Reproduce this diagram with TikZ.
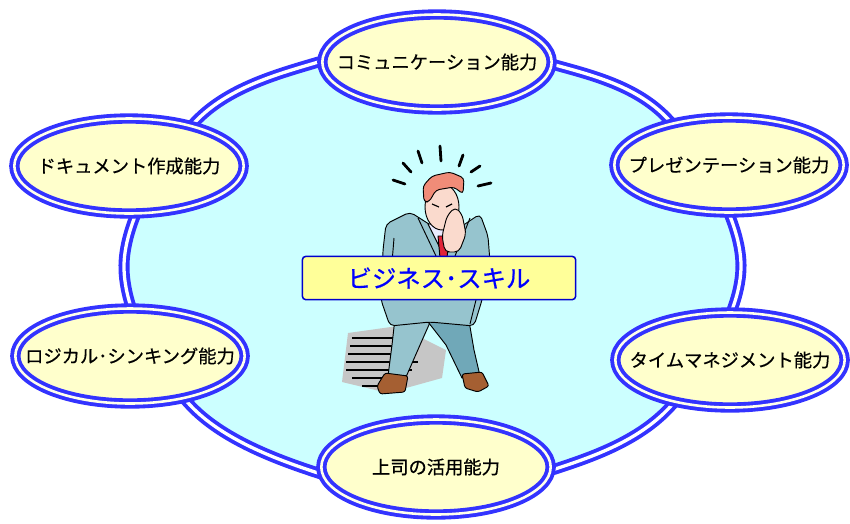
\documentclass[tikz,border=0pt]{standalone}
\usepackage{fontspec}
\setmainfont{Noto Sans CJK JP}[FakeBold=0.6]
\usepackage{xcolor}
\usepackage{tikz}
\usetikzlibrary{shapes.geometric}

\definecolor{ringblue}{RGB}{51,51,255}
\definecolor{skycyan}{RGB}{204,255,255}
\definecolor{paleyellow}{RGB}{255,255,204}
\definecolor{titleyellow}{RGB}{255,255,153}
\definecolor{suit}{RGB}{150,196,206}
\definecolor{suitdark}{RGB}{112,168,184}
\definecolor{skin}{RGB}{250,218,205}
\definecolor{hair}{RGB}{240,140,120}
\definecolor{shoe}{RGB}{165,95,50}
\definecolor{tiered}{RGB}{225,35,55}

\newcommand{\skilllabel}[1]{\makebox[0pt]{#1}}

\begin{document}
\begin{tikzpicture}[x=0.03cm, y=-0.03cm,
  skill/.style={ellipse, draw=ringblue, line width=3.3pt, double=paleyellow!40, double distance=2.2pt,
    fill=paleyellow, minimum width=6.88cm, minimum height=2.85cm, inner sep=0pt,
    font=\fontsize{15.6}{18}\selectfont},
  title/.style={draw=blue!80!black, line width=1.3pt, fill=titleyellow, rounded corners=3pt,
    minimum width=8.2cm, minimum height=1.3cm, text=blue, font=\fontsize{20.8}{23}\selectfont},
  outline/.style={draw=black, line width=0.8pt, line join=round}]
\useasboundingbox (0,0) rectangle (850,523);

% the ring behind everything
\filldraw[fill=skycyan, draw=ringblue, line width=3.3pt, double=white, double distance=2.8pt]
  plot[smooth cycle, tension=0.6] coordinates {(432,52) (315,63) (195,122) (124,265) (190,405) (318,473)
    (432,484) (552,470) (670,407) (741,265) (667,118) (548,63)};

% shadow
\begin{scope}
\clip (348,333) -- (398,326) -- (446,350) -- (442,378) -- (388,393) -- (342,382) -- cycle;
\fill[gray!45] (340,320) rectangle (450,400);
\foreach \y/\l/\r in {338/352/400,346/350/408,354/348/414,362/346/418,370/346/412,378/352/400,386/362/388}
  \draw[line width=1.6pt] (\l,\y) -- (\r,\y);
\end{scope}

% legs and shoes
\filldraw[outline, fill=suit] (395,318) -- (432,318) -- (420,345) -- (406,377) -- (388,376) -- (392,345) -- cycle;
\filldraw[outline, fill=suitdark] (425,318) -- (468,315) -- (474,350) -- (480,376) -- (462,378) -- (446,345) -- cycle;
\filldraw[outline, fill=shoe, rounded corners=2pt] (385,373) -- (408,376) -- (405,392) -- (380,394) -- (377,386) -- cycle;
\filldraw[outline, fill=shoe, rounded corners=2pt] (462,374) -- (482,372) -- (489,386) -- (478,392) -- (465,388) -- cycle;

% jacket
\filldraw[outline, fill=suit, rounded corners=4pt] (383,250) -- (386,224) -- (410,212) -- (432,226) -- (447,236)
  -- (462,226) -- (480,214) -- (488,236) -- (490,262) -- (482,300) -- (474,326) -- (430,322)
  -- (390,326) -- (381,300) -- cycle;
\filldraw[outline, fill=blue!8] (428,224) -- (462,224) -- (445,258) -- cycle;
\filldraw[outline, fill=tiered] (438,236) -- (449,236) -- (447,258) -- (440,258) -- cycle;
\draw[outline] (418,218) -- (436,256);
\draw[outline] (470,218) -- (455,256);
\draw[outline] (394,238) -- (389,300);
\draw[outline] (476,300) -- (470,324);

% head and hand
\filldraw[outline, fill=skin] (442,207) ellipse (17 and 23);
\filldraw[outline, fill=hair, rounded corners=3pt] (424,202) -- (423,186) -- (432,176) -- (450,172) -- (464,178)
  -- (463,194) -- (454,187) -- (436,190) -- (429,202) -- cycle;
\draw[line width=1pt] (432,204) -- (439,207);
\draw[line width=1pt] (446,207) -- (452,204);
\filldraw[outline, fill=skin, rounded corners=4pt] (447,216) -- (455,207) -- (462,214) -- (466,234) -- (459,252)
  -- (445,252) -- (442,236) -- cycle;

% stress marks
\begin{scope}[line width=2.4pt, line cap=round]
\draw (403,163) -- (411,172);
\draw (418,151) -- (422,163);
\draw (440,146) -- (441,161);
\draw (463,155) -- (459,166);
\draw (480,166) -- (471,172);
\draw (393,180) -- (405,184);
\draw (491,183) -- (478,186);
\end{scope}

\node(title)[title] at (439,278) {ビジネス･スキル};

\node(comm)[skill] at (437,62) {\skilllabel{コミュニケーション能力}};
\node(docu)[skill] at (129,166) {\skilllabel{ドキュメント作成能力}};
\node(pres)[skill] at (729,165) {\skilllabel{プレゼンテーション能力}};
\node(logi)[skill] at (130,356) {\skilllabel{ロジカル･シンキング能力}};
\node(time)[skill] at (730,360) {\skilllabel{タイムマネジメント能力}};
\node(boss)[skill] at (436,467) {\skilllabel{上司の活用能力}};
\end{tikzpicture}
\end{document}
